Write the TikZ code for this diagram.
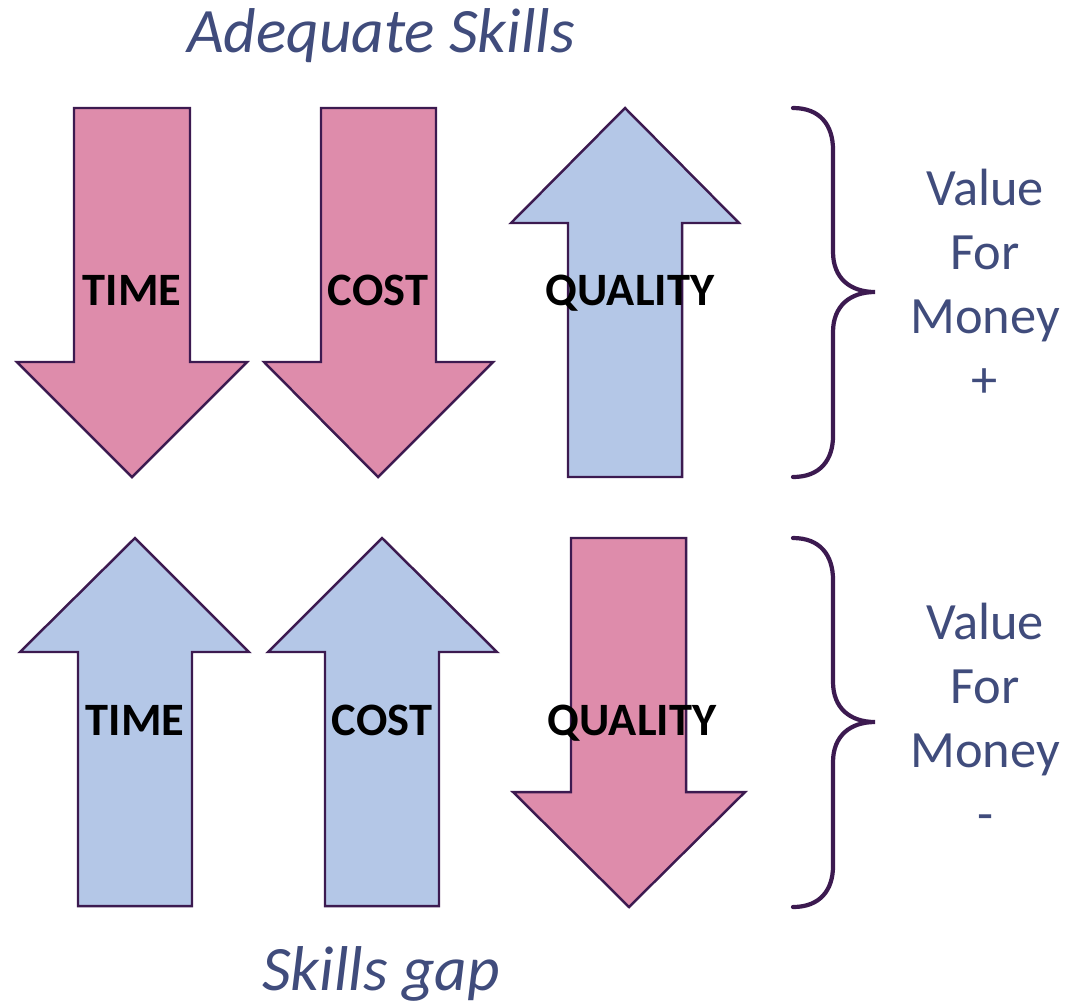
\documentclass[tikz,border=0pt]{standalone}
\usepackage{fontspec}
\setmainfont{Carlito}
\definecolor{rose}{HTML}{DE8CAB}
\definecolor{bleu}{HTML}{B4C7E7}
\definecolor{contour}{HTML}{3C1A50}
\definecolor{texte}{HTML}{404C7C}
\begin{document}
\begin{tikzpicture}[x=0.01cm, y=-0.01cm, line join=miter]
\tikzstyle{fleche} = [draw=contour, line width=0.7pt]
\tikzstyle{baisse} = [fleche, fill=rose]
\tikzstyle{hausse} = [fleche, fill=bleu]
\tikzstyle{etiquette} = [anchor=base, inner sep=0pt, font=\fontsize{13.2}{15}\selectfont\bfseries, text=black]
\tikzstyle{accolade} = [draw=contour, line width=1.2pt, line cap=round]
\tikzstyle{titre} = [anchor=base, inner sep=0pt, font=\fontsize{18}{21}\selectfont\itshape, text=texte]
\tikzstyle{bilan} = [anchor=base, inner sep=0pt, align=center, font=\fontsize{14.9}{18.2}\selectfont, text=texte]
\useasboundingbox (0,0) rectangle (1068,1000);
% ligne du haut
\draw[baisse] (74,108) -- (190,108) -- (190,362) -- (247,362) -- (132,477) -- (17,362) -- (74,362) -- cycle;
\draw[baisse] (321,108) -- (436,108) -- (436,362) -- (493,362) -- (378,477) -- (264,362) -- (321,362) -- cycle;
\draw[hausse] (625,108) -- (739,223) -- (682,223) -- (682,477) -- (568,477) -- (568,223) -- (511,223) -- cycle;
\node[etiquette] (tempsH) at (132,305) {TIME};
\node[etiquette] (coutH) at (378,305) {COST};
\node[etiquette] (qualiteH) at (630,305) {QUALITY};
% ligne du bas
\draw[hausse] (135,538) -- (249,652) -- (192,652) -- (192,906) -- (78,906) -- (78,652) -- (20,652) -- cycle;
\draw[hausse] (382,538) -- (497,652) -- (439,652) -- (439,906) -- (325,906) -- (325,652) -- (268,652) -- cycle;
\draw[baisse] (571,538) -- (686,538) -- (686,792) -- (745,792) -- (629,907) -- (513,792) -- (571,792) -- cycle;
\node[etiquette] (tempsB) at (135,735) {TIME};
\node[etiquette] (coutB) at (382,735) {COST};
\node[etiquette] (qualiteB) at (632,735) {QUALITY};
% accolades
\draw[accolade] (793,108) .. controls (820,108) and (833,125) .. (833,150) -- (833,252)
  .. controls (833,278) and (850,292) .. (875,292)
  .. controls (850,292) and (833,306) .. (833,332) -- (833,436)
  .. controls (833,460) and (820,477) .. (793,477);
\draw[accolade] (793,538) .. controls (820,538) and (833,555) .. (833,580) -- (833,682)
  .. controls (833,708) and (850,722) .. (875,722)
  .. controls (850,722) and (833,736) .. (833,762) -- (833,866)
  .. controls (833,890) and (820,907) .. (793,907);
% textes
\node[titre] (adequat) at (381,52) {Adequate Skills};
\node[titre] (ecart) at (381,990) {Skills gap};
\node[bilan] (plus) at (985,397) {Value\\For\\Money\\+};
\node[bilan] (moins) at (985,831) {Value\\For\\Money\\-};
\end{tikzpicture}
\end{document}
